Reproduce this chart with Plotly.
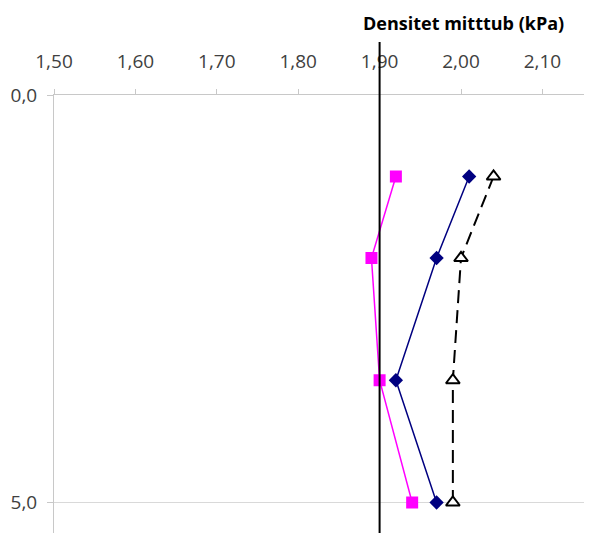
import plotly.graph_objects as go

depth = [1.0, 2.0, 3.5, 5.0]
series_magenta = [1.92, 1.89, 1.90, 1.94]
series_navy = [2.01, 1.97, 1.92, 1.97]
series_triangle = [2.04, 2.00, 1.99, 1.99]
ref_line_x = 1.90
title_text = "Densitet mitttub (kPa)"

OFF = 8  # default body margin of the html page
W, H = 592 - OFF, 541 - 2 * OFF
L, R, T, B = 54 - OFF, 0, 95 - OFF, 0
PW, PH = W - L - R, H - T - B
x0, x1 = 1.5, 1.5 + PW / 814.0
y_max = PH / 81.5

fig = go.Figure()
fig.add_trace(go.Scatter(
    x=series_magenta, y=depth, mode="lines+markers",
    line=dict(color="#FF00FF", width=1.5),
    marker=dict(symbol="square", size=12, color="#FF00FF"),
    showlegend=False))
fig.add_trace(go.Scatter(
    x=series_navy, y=depth, mode="lines+markers",
    line=dict(color="#000080", width=1.5),
    marker=dict(symbol="diamond", size=11, color="#000080"),
    showlegend=False))
fig.add_trace(go.Scatter(
    x=series_triangle, y=depth, mode="lines+markers",
    line=dict(color="#000000", width=2, dash="13px,7px"),
    marker=dict(symbol="triangle-up", size=12, color="white",
                line=dict(color="black", width=2)),
    showlegend=False))

xp = (ref_line_x - x0) / (x1 - x0)
fig.add_shape(type="line", xref="paper", yref="paper",
              x0=xp, x1=xp, y0=0, y1=1 + (T - (42 - OFF)) / PH,
              line=dict(color="black", width=2))

fig.add_annotation(text="<b>" + title_text + "</b>", xref="paper", yref="paper",
                   x=(463 - OFF - L) / PW, y=1 + (T - (23 - OFF)) / PH,
                   xanchor="center", yanchor="middle", showarrow=False,
                   font=dict(family="Open Sans", size=18, color="#000000"))

axis_col = "#c8c8c8"
fig.update_layout(
    width=W, height=H,
    margin=dict(l=L, r=R, t=T, b=B, pad=0),
    plot_bgcolor="white", paper_bgcolor="white",
    separators=", ",
    font=dict(family="Open Sans", size=19, color="#404040"),
    xaxis=dict(range=[x0, x1], side="top", showline=True, linecolor=axis_col,
               linewidth=1, ticks="outside", ticklen=5, tickcolor=axis_col,
               tick0=1.5, dtick=0.1, tickformat=".2f", showgrid=False,
               zeroline=False, ticklabelstandoff=13, automargin=False),
    yaxis=dict(range=[y_max, 0], showline=True, linecolor=axis_col,
               linewidth=1, ticks="outside", ticklen=6, tickcolor=axis_col,
               tick0=0, dtick=5, tickformat=".1f", showgrid=True,
               gridcolor="#d9d9d9", zeroline=False, ticklabelstandoff=6,
               automargin=False),
)

fig.write_html("out.html")
